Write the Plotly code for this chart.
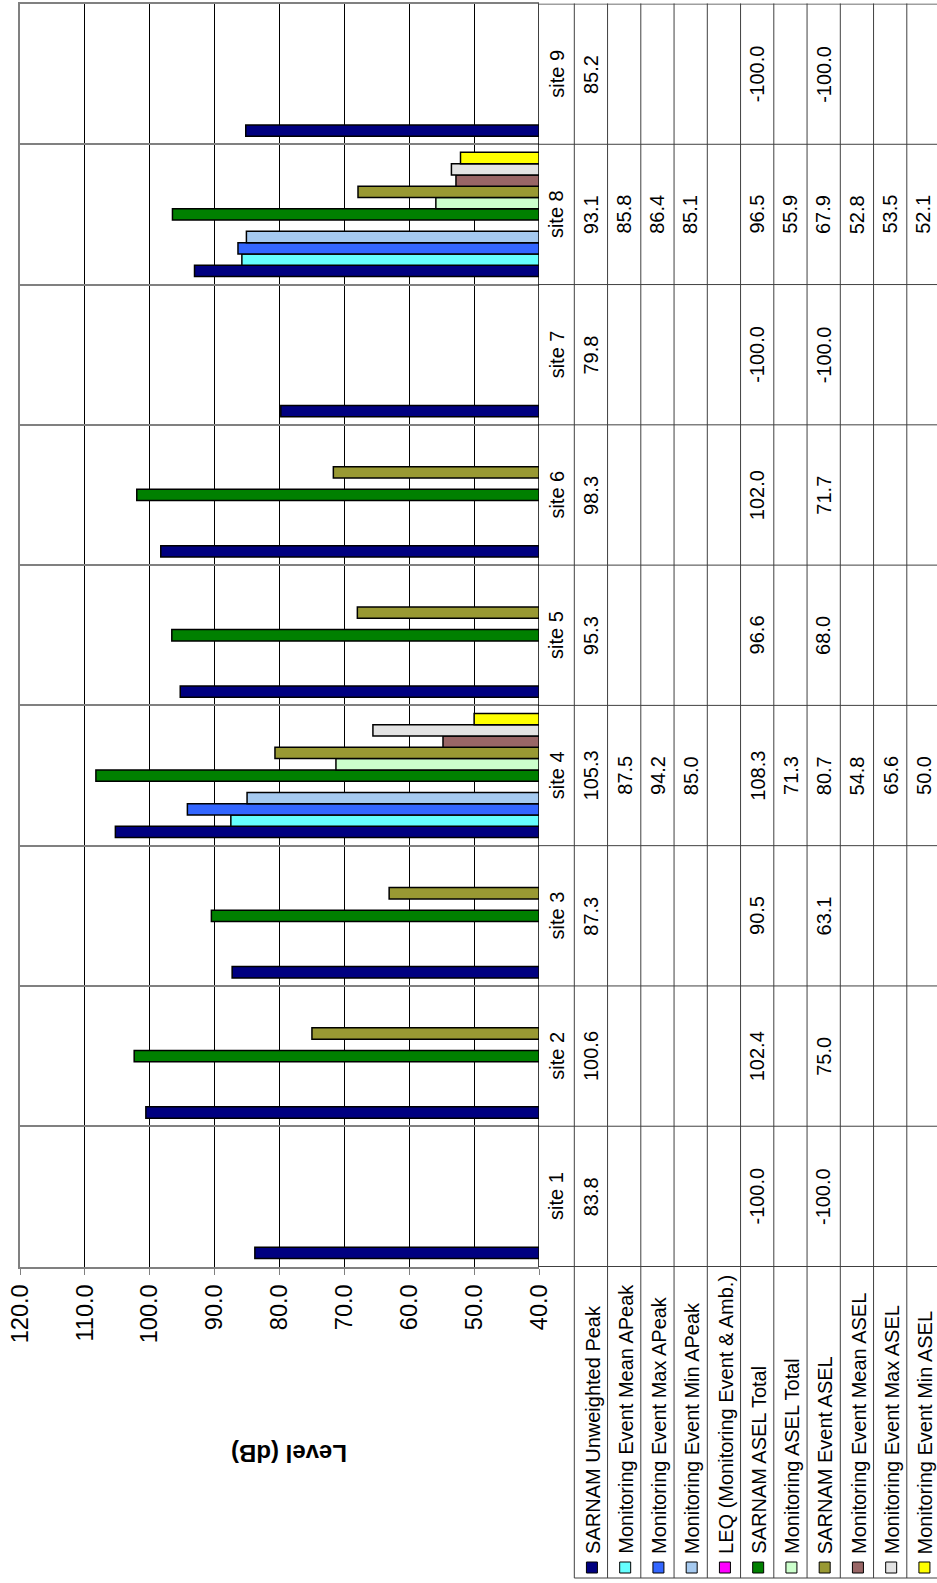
import plotly.graph_objects as go

sites = ['site 1', 'site 2', 'site 3', 'site 4', 'site 5', 'site 6', 'site 7', 'site 8', 'site 9']

sarnam_unweighted_peak = [83.8, 100.6, 87.3, 105.3, 95.3, 98.3, 79.8, 93.1, 85.2]
mon_mean_apeak = [None, None, None, 87.5, None, None, None, 85.8, None]
mon_max_apeak = [None, None, None, 94.2, None, None, None, 86.4, None]
mon_min_apeak = [None, None, None, 85.0, None, None, None, 85.1, None]
leq_event_amb = [None, None, None, None, None, None, None, None, None]
sarnam_asel_total = [-100.0, 102.4, 90.5, 108.3, 96.6, 102.0, -100.0, 96.5, -100.0]
mon_asel_total = [None, None, None, 71.3, None, None, None, 55.9, None]
sarnam_event_asel = [-100.0, 75.0, 63.1, 80.7, 68.0, 71.7, -100.0, 67.9, -100.0]
mon_mean_asel = [None, None, None, 54.8, None, None, None, 52.8, None]
mon_max_asel = [None, None, None, 65.6, None, None, None, 53.5, None]
mon_min_asel = [None, None, None, 50.0, None, None, None, 52.1, None]

series_names = [
    'SARNAM Unweighted Peak',
    'Monitoring Event Mean APeak',
    'Monitoring Event Max APeak',
    'Monitoring Event Min APeak',
    'LEQ (Monitoring Event & Amb.)',
    'SARNAM ASEL Total',
    'Monitoring ASEL Total',
    'SARNAM Event ASEL',
    'Monitoring Event Mean ASEL',
    'Monitoring Event Max ASEL',
    'Monitoring Event Min ASEL',
]
series_values = [
    sarnam_unweighted_peak, mon_mean_apeak, mon_max_apeak, mon_min_apeak,
    leq_event_amb, sarnam_asel_total, mon_asel_total, sarnam_event_asel,
    mon_mean_asel, mon_max_asel, mon_min_asel,
]
series_colors = [
    '#000080', '#66FFFF', '#3366FF', '#A6CAF0', '#FF00FF', '#008000',
    '#CCFFCC', '#999933', '#996666', '#E3E3E3', '#FFFF00',
]

# page geometry (pixels)
W, H = 937, 1583
PL, PR, PT, PB = 20, 539, 3.5, 1267   # plot area
COL0 = 574.3                          # first series column of the table
COLW = 33.25
TABLE_BOTTOM = 1578
FONT = 'Liberation Sans, Arial, sans-serif'


def px(x):
    return x / W


def py(y):
    return 1 - y / H


fig = go.Figure()
for name, vals, col in zip(series_names, series_values, series_colors):
    fig.add_trace(go.Bar(
        x=vals, y=sites, name=name, orientation='h',
        marker=dict(color=col, line=dict(color='black', width=1.5)),
        showlegend=False,
    ))

shapes = []
annotations = []

# right edge of the plot (40 dB axis)
shapes.append(dict(type='line', xref='x', yref='paper', x0=40, x1=40,
                   y0=py(PB), y1=py(PT), line=dict(color='black', width=1.5),
                   layer='above'))

# table horizontal lines at category boundaries
for i in range(len(sites) + 1):
    shapes.append(dict(type='line', xref='paper', yref='y', x0=px(PR), x1=1,
                       y0=i - 0.5, y1=i - 0.5, line=dict(color='#404040', width=1)))

# table vertical lines
for k in range(len(series_names)):
    x = COL0 + COLW * k
    shapes.append(dict(type='line', xref='paper', yref='paper', x0=px(x), x1=px(x),
                       y0=py(TABLE_BOTTOM), y1=py(PT), line=dict(color='#404040', width=1)))
shapes.append(dict(type='line', xref='paper', yref='paper', x0=px(COL0), x1=1,
                   y0=py(TABLE_BOTTOM), y1=py(TABLE_BOTTOM), line=dict(color='#404040', width=1)))

cell_font = dict(family=FONT, size=20, color='black')

# site labels (first table column)
for s in sites:
    annotations.append(dict(x=px((PR + COL0) / 2), y=s, xref='paper', yref='y',
                            text=s, textangle=-90, showarrow=False,
                            xanchor='center', yanchor='middle', font=cell_font))

# table values and legend
for k, (name, vals, col) in enumerate(zip(series_names, series_values, series_colors)):
    cx = COL0 + COLW * (k + 0.5)
    for s, v in zip(sites, vals):
        if v is None:
            continue
        annotations.append(dict(x=px(cx), y=s, xref='paper', yref='y',
                                text=f'{v:.1f}', textangle=-90, showarrow=False,
                                xanchor='center', yanchor='middle', font=cell_font))
    annotations.append(dict(x=px(cx + 1.5), y=py(1556), xref='paper', yref='paper',
                            text=name, textangle=-90, showarrow=False,
                            xanchor='center', yanchor='bottom', font=cell_font))
    shapes.append(dict(type='rect', xref='paper', yref='paper',
                       x0=px(cx - 4.5), x1=px(cx + 6.5), y0=py(1573), y1=py(1562),
                       fillcolor=col, line=dict(color='black', width=1)))

# axis title (upside down, as on the rotated original)
annotations.append(dict(x=px(289), y=py(1454), xref='paper', yref='paper',
                        text='<b>Level (dB)</b>', textangle=180, showarrow=False,
                        xanchor='center', yanchor='middle',
                        font=dict(family=FONT, size=24, color='black')))

fig.update_layout(
    width=W, height=H,
    margin=dict(l=0, r=0, t=0, b=0),
    paper_bgcolor='white', plot_bgcolor='white',
    barmode='group', bargap=0.115, bargroupgap=0,
    font=dict(family=FONT, color='black'),
    xaxis=dict(
        domain=[px(PL), px(PR)], range=[120, 40], dtick=10, tick0=40,
        tickformat='.1f', tickangle=-90, ticks='outside', ticklen=6,
        tickcolor='#808080', ticklabelstandoff=0,
        tickfont=dict(family=FONT, size=23.5, color='black'),
        showgrid=True, gridcolor='black', gridwidth=1, zeroline=False,
        showline=True, linecolor='#808080', linewidth=2, mirror=True,
        automargin=False,
    ),
    yaxis=dict(
        domain=[py(PB), py(PT)], type='category', categoryorder='array',
        categoryarray=sites, tickson='boundaries', showticklabels=False,
        ticks='', showgrid=True, gridcolor='#808080', gridwidth=1.5,
        showline=True, linecolor='#808080', linewidth=2, automargin=False,
        zeroline=False,
    ),
    shapes=shapes,
    annotations=annotations,
)

# the page's default body margin would push the figure 8px right and down
fig.write_html('out.html', config={'displayModeBar': False},
               post_script="document.body.style.margin = '0';")
